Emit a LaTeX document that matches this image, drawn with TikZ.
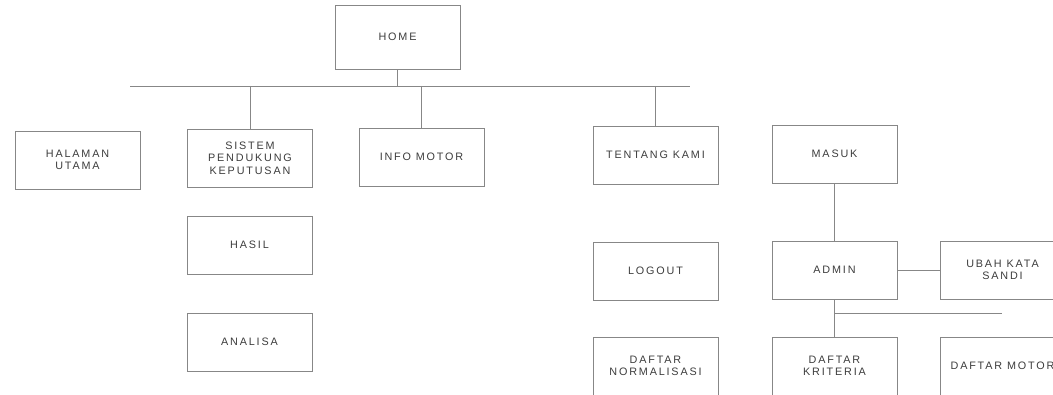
\documentclass[tikz,border=0pt]{standalone}
\usepackage{fontspec}
\setmainfont{Liberation Sans}
\usetikzlibrary{positioning,calc}
\definecolor{linecolor}{RGB}{135,135,135}
\definecolor{txtcolor}{RGB}{60,60,60}
\tikzset{
  menubox/.style={draw=linecolor, line width=0.9pt, minimum width=125pt, minimum height=58pt,
    align=center, inner sep=2pt, text=txtcolor,
    font=\fontsize{10.8}{12.5}\selectfont\addfontfeature{LetterSpace=17}},
  linkln/.style={linecolor, line width=0.9pt},
}
\begin{document}
\begin{tikzpicture}[x=1pt, y=-1pt]
    \useasboundingbox (0,0) rectangle (1053,395);
    \clip (0,0) rectangle (1053,395);
    \node[menubox, minimum height=64pt] (home) at (397.5,37) {HOME};
    % first level
    \node[menubox] (halaman) at (77.5,160) {HALAMAN\\UTAMA};
    \node[menubox] (spk) at (250,158) {SISTEM\\PENDUKUNG\\KEPUTUSAN};
    \node[menubox] (info) at (421.5,157) {INFO MOTOR};
    \node[menubox] (tentang) at (655.5,155) {TENTANG KAMI};
    \node[menubox] (masuk) at (834.5,154) {MASUK};
    % under spk
    \node[menubox] (hasil) at (249.5,245) {HASIL};
    \node[menubox] (analisa) at (249.5,342) {ANALISA};
    % under masuk
    \node[menubox] (logout) at (655.5,271) {LOGOUT};
    \node[menubox] (admin) at (834.5,270) {ADMIN};
    \node[menubox] (sandi) at (1002.5,270) {UBAH KATA\\SANDI};
    \node[menubox] (normal) at (655.5,366) {DAFTAR\\NORMALISASI};
    \node[menubox] (kriteria) at (834.5,366) {DAFTAR\\KRITERIA};
    \node[menubox] (motor) at (1002.5,366) {DAFTAR MOTOR};
    \coordinate (barL) at (130,86);
    \coordinate (barR) at (690,86);
    \coordinate (subR) at (1002,313);
    \draw[linkln] (barL) -- (barR);
    \draw[linkln] (home.south) -- (home.south |- barL);
    \draw[linkln] (spk.north |- barL) -- (spk.north);
    \draw[linkln] (info.north |- barL) -- (info.north);
    \draw[linkln] (tentang.north |- barL) -- (tentang.north);
    \draw[linkln] (masuk.south) -- (admin.north);
    \draw[linkln] (admin.east) -- (sandi.west);
    \draw[linkln] (admin.south) -- (kriteria.north);
    \draw[linkln] (admin.south |- subR) -- (subR);
\end{tikzpicture}
\end{document}
